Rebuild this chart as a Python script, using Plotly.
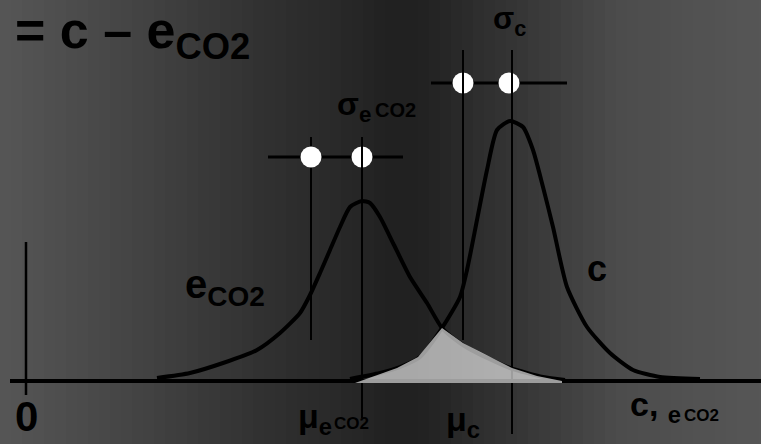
import plotly.graph_objects as go

# ---- data (x in chart units, height above baseline) ----
e_x = [157, 190, 223, 257, 280, 300, 310, 320, 330, 340, 350, 362, 370, 380, 393, 410, 427, 442, 460, 477, 510, 543, 565]
e_h = [3, 8, 18, 31, 48, 68, 86, 108, 131, 154, 174, 180, 178, 164, 138, 104, 78, 53, 38, 28, 13, 4, 1]

c_x = [350, 380, 400, 420, 442, 460, 467, 477, 487, 497, 510, 523, 533, 543, 553, 567, 587, 610, 633, 660, 700]
c_h = [2, 8, 14, 24, 53, 84, 111, 161, 211, 251, 260, 254, 231, 194, 154, 94, 54, 28, 11, 4, 2]

overlap_x = [355, 397, 418, 430, 442, 463, 497, 512, 537, 562, 562, 355]
overlap_h = [-2, 13, 24, 38, 53, 38, 21, 13, 5, 0, -2, -2]

mu_e, mu_c = 362, 512
sig_e_left, sig_c_left = 311, 463
sig_e_level, sig_c_level = 224, 298

BASE_Y = 381  # pixel row of baseline (for converting positions)


def h(py):
    return BASE_Y - py


FONT = "Liberation Sans, Arial, sans-serif"

fig = go.Figure()

# background vertical gradient bands
stops = [(0, 86), (160, 64), (260, 49), (340, 40), (390, 33), (420, 33), (490, 48), (550, 60), (620, 76), (761, 86)]


def gray_at(x):
    for (x0, g0), (x1, g1) in zip(stops[:-1], stops[1:]):
        if x0 <= x <= x1:
            return g0 + (g1 - g0) * (x - x0) / (x1 - x0)
    return stops[-1][1]


shapes = []
band = 11
x = 0
while x < 761:
    g = int(round(gray_at(x + band / 2)))
    shapes.append(dict(type="rect", xref="x", yref="paper", x0=x, x1=min(x + band, 761) + 0.5,
                       y0=0, y1=1, fillcolor=f"rgb({g},{g},{g})", line=dict(width=0), layer="below"))
    x += band

# baseline and zero axis
fig.add_trace(go.Scatter(x=[10, 761], y=[0, 0], mode="lines", line=dict(color="black", width=4)))
fig.add_trace(go.Scatter(x=[26, 26], y=[h(242), h(395)], mode="lines", line=dict(color="black", width=2.5)))

# curves
fig.add_trace(go.Scatter(x=e_x, y=e_h, mode="lines", line=dict(color="black", width=4, shape="spline", smoothing=0.6)))
fig.add_trace(go.Scatter(x=c_x, y=c_h, mode="lines", line=dict(color="black", width=4, shape="spline", smoothing=0.6)))

# sigma horizontal lines
fig.add_trace(go.Scatter(x=[268, 403], y=[sig_e_level, sig_e_level], mode="lines", line=dict(color="black", width=3)))
fig.add_trace(go.Scatter(x=[431, 567], y=[sig_c_level, sig_c_level], mode="lines", line=dict(color="black", width=3)))

# vertical line behind first circle
fig.add_trace(go.Scatter(x=[sig_e_left, sig_e_left], y=[h(137), h(340)], mode="lines", line=dict(color="black", width=2)))

# circles
fig.add_trace(go.Scatter(x=[sig_e_left, mu_e, sig_c_left, mu_c - 3], y=[sig_e_level, sig_e_level, sig_c_level, sig_c_level],
                         mode="markers", marker=dict(color="white", size=21, line=dict(width=0))))

# vertical lines over circles
fig.add_trace(go.Scatter(x=[mu_e, mu_e], y=[h(137), h(418)], mode="lines", line=dict(color="black", width=2)))
fig.add_trace(go.Scatter(x=[sig_c_left, sig_c_left], y=[h(50), h(340)], mode="lines", line=dict(color="black", width=2)))
fig.add_trace(go.Scatter(x=[mu_c, mu_c], y=[h(50), h(434)], mode="lines", line=dict(color="black", width=2)))

# overlap fill
fig.add_trace(go.Scatter(x=overlap_x, y=overlap_h, mode="lines", fill="toself",
                         fillcolor="rgba(245,245,245,0.64)", line=dict(width=0)))

anns = []


def txt(text, x, py, size, xanchor="left"):
    anns.append(dict(text=text, x=x, y=h(py), xref="x", yref="y", xanchor=xanchor, yanchor="top",
                     showarrow=False, font=dict(family=FONT, size=size, color="black"), borderpad=0, borderwidth=0))


txt("<b>= c – e<sub>CO2</sub></b>", 15, 1, 52)
txt("<b>σ<sub>c</sub></b>", 509, 0.5, 31, "center")
txt("<b>σ<sub>e</sub></b>", 337, 86, 32)
txt("<b>CO2</b>", 375, 99, 20)
txt("<b>μ<sub>e</sub></b>", 298, 397, 34)
txt("<b>CO2</b>", 334, 414, 17)
txt("<b>μ<sub>c</sub></b>", 446, 400, 34)
txt("<b>e<sub>CO2</sub></b>", 185, 262, 40)
txt("<b>c</b>", 597, 248, 36, "center")
txt("<b>c, <sub>e</sub></b>", 630, 385, 34)
txt("<b>CO2</b>", 684, 406, 17)
txt("<b>0</b>", 26, 393, 42, "center")

fig.update_layout(
    width=761, height=444, margin=dict(l=0, r=0, t=0, b=0),
    paper_bgcolor="rgb(60,60,60)", plot_bgcolor="rgba(0,0,0,0)",
    showlegend=False, shapes=shapes, annotations=anns,
    xaxis=dict(range=[0, 761], visible=False, fixedrange=True),
    yaxis=dict(range=[h(444), h(0)], visible=False, fixedrange=True),
)

fig.write_html("out.html", config={"displayModeBar": False},
               post_script="document.body.style.margin='0';document.body.style.overflow='hidden';")
